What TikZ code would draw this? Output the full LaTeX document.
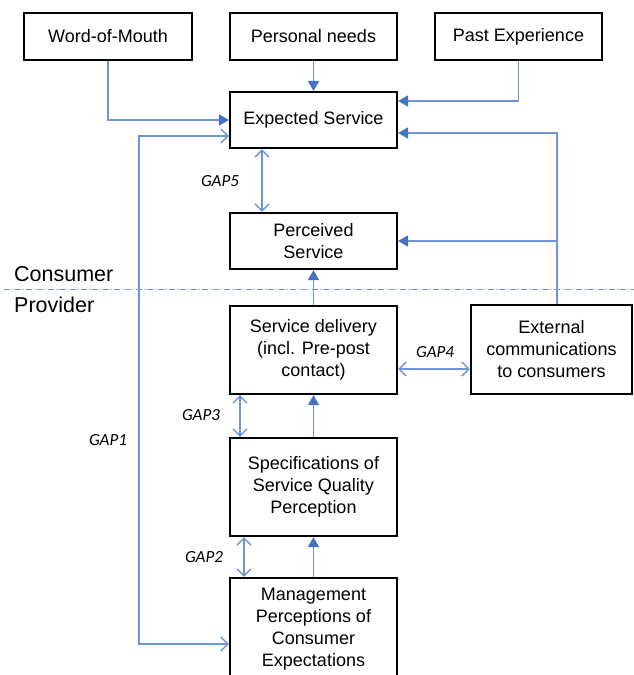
\documentclass[tikz,border=0pt]{standalone}
\usepackage{fontspec}
\setmainfont{Liberation Sans}
\newfontfamily\gapfont{Carlito}
\usetikzlibrary{arrows.meta,calc}
\definecolor{lineblue}{HTML}{6E94DA}
\definecolor{headblue}{HTML}{4472C4}
\begin{document}
\begin{tikzpicture}[x=1pt,y=-1pt,
  box/.style={draw=black,line width=2.1pt,fill=white,align=center,inner sep=0pt,
    font=\fontsize{18}{22}\selectfont},
  flow/.style={draw=lineblue,line width=1.4pt,-{Triangle[length=10pt,width=11pt,fill=headblue,color=headblue]}},
  gap/.style={draw=lineblue,line width=1.4pt,{Straight Barb[length=7pt,width=14pt]}-{Straight Barb[length=7pt,width=14pt]}},
  gaplabel/.style={font=\gapfont\itshape\fontsize{17}{20}\selectfont,inner sep=0pt,text=black},
  side/.style={font=\fontsize{21.5}{24}\selectfont,inner sep=0pt,anchor=west}]
\useasboundingbox (0,0) rectangle (634,675);
\begin{scope}
\clip (0,0) rectangle (634,675);
% boxes
\node[box,minimum width=168pt,minimum height=47pt] (wom) at (108,36.5) {Word-of-Mouth};
\node[box,minimum width=167pt,minimum height=47pt] (pn) at (313.5,36.5) {Personal needs};
\node[box,minimum width=167pt,minimum height=47pt] (pe) at (518.5,36.5) {Past Experience};
\node[box,minimum width=167pt,minimum height=56pt] (exp) at (313.5,120) {Expected Service};
\node[box,minimum width=167pt,minimum height=56pt] (per) at (313.5,241) {Perceived\\Service};
\node[box,minimum width=167pt,minimum height=88pt] (sd) at (313.5,350) {Service delivery\\(incl. Pre-post\\contact)};
\node[box,minimum width=161pt,minimum height=89pt] (ext) at (551.5,349.5) {External\\communications\\to consumers};
\node[box,minimum width=167pt,minimum height=98pt] (spec) at (313.5,487) {Specifications of\\Service Quality\\Perception};
\node[box,minimum width=167pt,minimum height=103pt] (mgmt) at (313.5,629.5) {Management\\Perceptions of\\Consumer\\Expectations};
% divider
\coordinate (dl) at (4,289);
\coordinate (dr) at (634,289);
\draw[lineblue,line width=0.9pt,dash pattern=on 6pt off 2pt on 1pt off 2pt] (dl) -- (dr);
\node[side] (cons) at (14,274) {Consumer};
\node[side] (prov) at (14,305) {Provider};
% flows
\draw[flow] (wom.south) |- (exp.west);
\draw[flow] (pn.south) -- (exp.north);
\draw[flow] (pe.south) |- ([yshift=19pt]exp.east);
\coordinate (extup) at ([xshift=5.5pt]ext.north);
\draw[flow] (extup) |- ([yshift=-13pt]exp.east);
\coordinate (br) at (extup |- per.east);
\draw[flow] (br) -- (per.east);
\draw[flow] (sd.north) -- (per.south);
\draw[flow] (spec.north) -- (sd.south);
\draw[flow] (mgmt.north) -- (spec.south);
% gaps
\draw[gap] ([xshift=-51.5pt]exp.south) -- ([xshift=-51.5pt]per.north);
\coordinate (g4) at ([yshift=-19pt]sd.east);
\draw[gap] (g4) -- (g4 -| ext.west);
\draw[gap] ([xshift=-73.5pt]sd.south) -- ([xshift=-73.5pt]spec.north);
\draw[gap] ([xshift=-69.5pt]spec.south) -- ([xshift=-69.5pt]mgmt.north);
\draw[gap] ([yshift=-16pt]exp.west) -- ++(-90,0) |- ([yshift=-14.5pt]mgmt.west);
% labels
\node[gaplabel] (l5) at (220,181) {GAP5};
\node[gaplabel] (l4) at (435,352) {GAP4};
\node[gaplabel] (l3) at (201,415) {GAP3};
\node[gaplabel] (l2) at (204,557) {GAP2};
\node[gaplabel] (l1) at (108,440) {GAP1};
\end{scope}
\end{tikzpicture}
\end{document}
